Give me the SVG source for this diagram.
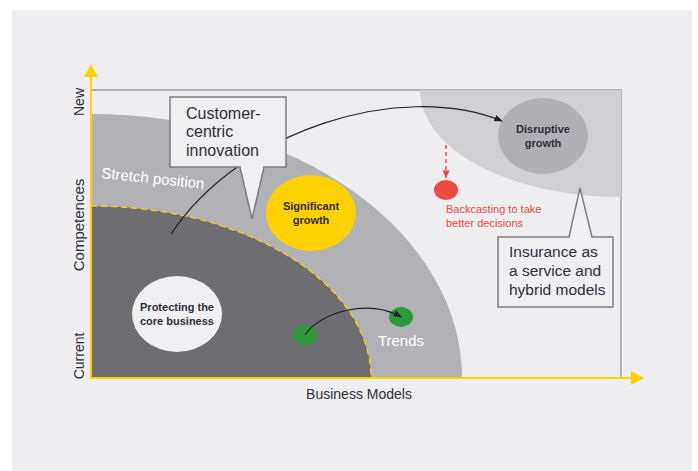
<svg xmlns="http://www.w3.org/2000/svg" width="698" height="471" viewBox="0 0 698 471">
  <defs>
    <clipPath id="plot"><rect x="91" y="90" width="530" height="288"/></clipPath>
    <marker id="arrowBlack" viewBox="0 0 10 10" refX="9" refY="5" markerWidth="7" markerHeight="7" orient="auto">
      <path d="M0,1 L10,5 L0,9 Z" fill="#222"/>
    </marker>
    <marker id="arrowRed" viewBox="0 0 10 10" refX="9" refY="5" markerWidth="6" markerHeight="6" orient="auto">
      <path d="M0,1 L10,5 L0,9 Z" fill="#ee4a3f"/>
    </marker>
    <style>
      .lbl { font-family: "Liberation Sans", Arial, sans-serif; fill: #2e2e38; }
      .bold { font-family: "Liberation Sans", Arial, sans-serif; font-weight: 700; font-size: 11px; fill: #2e2e38; text-anchor: middle; }
      .white { font-family: "Liberation Sans", Arial, sans-serif; fill: #ffffff; }
      .red { font-family: "Liberation Sans", Arial, sans-serif; font-size: 11px; fill: #ee4a3f; }
      .callout { fill: #efeff1; stroke: #7c7c80; stroke-width: 1.5; }
      .wire { fill: none; stroke: #222; stroke-width: 1.2; }
    </style>
  </defs>

  <!-- panel -->
  <rect x="0" y="0" width="698" height="471" fill="#ffffff"/>
  <rect x="12" y="10" width="680" height="461" fill="#eeeef0"/>

  <!-- plot frame -->
  <rect x="91" y="90" width="530" height="288" fill="#eeeef0" stroke="#8a8a8e" stroke-width="1.2"/>

  <!-- zones -->
  <g clip-path="url(#plot)">
    <ellipse id="zone-future" cx="620" cy="90" rx="200" ry="107" fill="#d0d0d3"/>
    <ellipse id="zone-stretch" cx="91" cy="378" rx="371" ry="264" fill="#b2b2b6"/>
    <ellipse id="zone-core" cx="91" cy="378" rx="280" ry="172" fill="#6e6d72" stroke="#ffd100" stroke-width="1.3" stroke-dasharray="6 4"/>
  </g>

  <!-- axes -->
  <g id="axes">
    <line x1="91" y1="378" x2="91" y2="76" stroke="#ffd100" stroke-width="2"/>
    <path d="M84,77 L91,64 L98,77 Z" fill="#ffd100"/>
    <line x1="91" y1="378" x2="632" y2="378" stroke="#ffd100" stroke-width="2"/>
    <path d="M631,371 L644,378 L631,385 Z" fill="#ffd100"/>
    <text class="lbl" font-size="14" text-anchor="middle" transform="translate(84,102) rotate(-90)">New</text>
    <text class="lbl" font-size="15" text-anchor="middle" transform="translate(84,225) rotate(-90)">Competences</text>
    <text class="lbl" font-size="14" text-anchor="middle" transform="translate(84,356) rotate(-90)">Current</text>
    <text class="lbl" font-size="14" text-anchor="middle" x="359" y="399">Business Models</text>
  </g>

  <text class="white" x="101" y="178" font-size="15" transform="rotate(6 101 178)">Stretch position</text>

  <g id="node-core">
    <ellipse cx="177" cy="314" rx="45" ry="38" fill="#f0f0f2"/>
    <text class="bold" x="177" y="311">Protecting the</text>
    <text class="bold" x="177" y="325">core business</text>
  </g>

  <g id="node-significant">
    <ellipse cx="311" cy="213" rx="45" ry="38" fill="#ffd100"/>
    <text class="bold" x="311" y="210">Significant</text>
    <text class="bold" x="311" y="224">growth</text>
  </g>

  <g id="node-disruptive">
    <ellipse cx="543" cy="136" rx="45" ry="38" fill="#b0b0b4"/>
    <text class="bold" x="543" y="133">Disruptive</text>
    <text class="bold" x="543" y="147">growth</text>
  </g>

  <g id="node-trend-a">
    <ellipse cx="305" cy="335" rx="12" ry="10" fill="#2a9a3c"/>
  </g>
  <g id="node-trend-b">
    <ellipse cx="401" cy="317" rx="12" ry="10" fill="#2a9a3c"/>
    <text class="white" x="401" y="346" font-size="15" text-anchor="middle">Trends</text>
  </g>

  <g id="node-backcasting">
    <ellipse cx="446" cy="190" rx="12" ry="10" fill="#ee4a3f"/>
    <text class="red" x="446" y="213">Backcasting to take</text>
    <text class="red" x="446" y="227">better decisions</text>
  </g>

  <!-- connectors -->
  <g id="connectors">
    <path class="wire" d="M171,234 C240,130 400,80 502,121" marker-end="url(#arrowBlack)"/>
    <path class="wire" d="M305,335 C320,312 370,298 401,317" marker-end="url(#arrowBlack)"/>
    <line x1="446" y1="145" x2="446" y2="178" stroke="#ee4a3f" stroke-width="1.4" stroke-dasharray="4 3" marker-end="url(#arrowRed)"/>
  </g>

  <g id="callout-customer">
    <path class="callout" d="M170,97 L286,97 L286,167 L264,167 L252,219 L240,167 L170,167 Z"/>
    <text class="lbl" font-size="16" x="186" y="119">Customer-</text>
    <text class="lbl" font-size="16" x="186" y="137">centric</text>
    <text class="lbl" font-size="16" x="186" y="156">innovation</text>
  </g>

  <g id="callout-insurance">
    <path class="callout" d="M498,237 L569,237 L580,188 L592,237 L613,237 L613,307 L498,307 Z"/>
    <text class="lbl" font-size="15.5" x="509" y="257">Insurance as</text>
    <text class="lbl" font-size="15.5" x="509" y="276">a service and</text>
    <text class="lbl" font-size="15.5" x="509" y="295">hybrid models</text>
  </g>
</svg>
